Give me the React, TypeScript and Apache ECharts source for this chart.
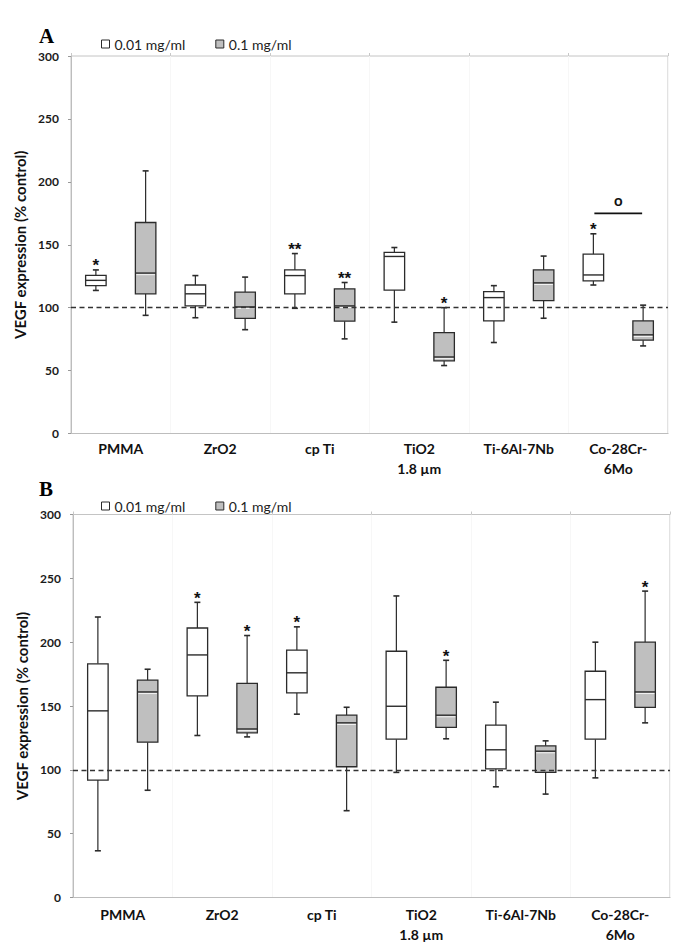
import React, { useEffect, useRef } from 'react';
import * as echarts from 'echarts';

const categories = ['PMMA', 'ZrO2', 'cp Ti', 'TiO2\n1.8 µm', 'Ti-6Al-7Nb', 'Co-28Cr-\n6Mo'];
const seriesNames = ['0.01 mg/ml', '0.1 mg/ml'];
const yMin = 0;
const yMax = 300;
const yStep = 50;
const controlLevel = 100;

// [min, q1, median, q3, max]
const panelALow = [
  [113.7, 117.5, 121.7, 125.6, 130],
  [92, 101.5, 111, 118, 125.5],
  [99.5, 111, 125.5, 130, 143],
  [88.5, 114, 140.7, 143.9, 147.8],
  [72.3, 89.5, 108, 112.8, 117.5],
  [118, 121.3, 126, 142.5, 158.7],
];
const panelAHigh = [
  [93.9, 111, 127.5, 167.7, 208.7],
  [82.5, 91.5, 100.6, 112.4, 124.3],
  [75.2, 89.3, 101.4, 115, 120],
  [54, 57.7, 60.8, 80.2, 100],
  [91.6, 105.6, 119.7, 130, 141],
  [69.6, 74.2, 78.4, 89.5, 102],
];
const sigALow = ['*', '', '**', '', '', '*'];
const sigAHigh = ['', '', '**', '*', '', ''];
const sigBarA = [[5, 175]];
const sigBarLabel = 'o';

const panelBLow = [
  [36.6, 92, 146.2, 183, 219.7],
  [126.9, 158, 190, 211.1, 231.2],
  [143.6, 160.3, 176, 193.7, 212],
  [98, 124, 149.8, 192.9, 236.2],
  [86.7, 100.8, 115.7, 135, 153],
  [93.7, 124, 155, 177.2, 200],
];
const panelBHigh = [
  [84, 121.7, 161, 170.2, 178.8],
  [125.8, 129, 132, 167.8, 205.2],
  [68, 102.4, 136.8, 142.8, 149],
  [124.3, 133.2, 142.8, 164.7, 185.8],
  [81, 98, 114.6, 118.8, 122.7],
  [136.8, 149, 161, 200, 240],
];
const sigBLow = ['', '*', '*', '', '', ''];
const sigBHigh = ['', '*', '', '*', '', '*'];

const FONT = 'Lato, "Open Sans", sans-serif';
const DARK = '#2b2b2b';
const GRAY = '#bfbfbf';
const AXIS = '#bdbdbd';

function boxSeries(
  name: string,
  axisIdx: number,
  yIdx: number,
  values: number[][],
  side: number,
  fill: string,
  sig: string[],
  withLine: boolean
): any {
  return {
    type: 'custom',
    name,
    xAxisIndex: axisIdx,
    yAxisIndex: yIdx,
    encode: { x: 0, y: [1, 2, 3, 4, 5] },
    itemStyle: { color: fill, borderColor: DARK, borderWidth: 1 },
    data: values.map((d, i) => [i, ...d]),
    z: 2,
    renderItem: (params: any, api: any) => {
      const cat = api.value(0);
      const v = [1, 2, 3, 4, 5].map((k) => api.value(k));
      const band = api.size([1, 0])[0];
      const cx = api.coord([cat, 0])[0] + side * band * 0.25;
      const y = v.map((val: number) => api.coord([cat, val])[1]);
      const hw = band * 0.103;
      const cap = 3;
      const ls = { stroke: DARK, lineWidth: 1.2 };
      const children: any[] = [
        { type: 'line', shape: { x1: cx, y1: y[0], x2: cx, y2: y[1] }, style: ls },
        { type: 'line', shape: { x1: cx, y1: y[3], x2: cx, y2: y[4] }, style: ls },
        { type: 'line', shape: { x1: cx - cap, y1: y[0], x2: cx + cap, y2: y[0] }, style: { stroke: DARK, lineWidth: 1.6 } },
        { type: 'line', shape: { x1: cx - cap, y1: y[4], x2: cx + cap, y2: y[4] }, style: { stroke: DARK, lineWidth: 1.6 } },
        {
          type: 'rect',
          shape: { x: cx - hw, y: y[3], width: hw * 2, height: y[1] - y[3] },
          style: { fill, stroke: DARK, lineWidth: 1.3 },
        },
        { type: 'line', shape: { x1: cx - hw, y1: y[2], x2: cx + hw, y2: y[2] }, style: { stroke: DARK, lineWidth: 1.4 } },
      ];
      if (fill !== '#ffffff') {
        children.push({
          type: 'line',
          shape: { x1: cx - hw + 1, y1: y[2] + 1.6, x2: cx + hw - 1, y2: y[2] + 1.6 },
          style: { stroke: '#f4f4f4', lineWidth: 1 },
        });
      }
      const s = sig[params.dataIndex];
      if (s) {
        children.push({
          type: 'text',
          style: {
            text: s,
            x: cx,
            y: y[4] - 4,
            align: 'center',
            verticalAlign: 'middle',
            font: 'bold 17px "Liberation Sans"',
            fill: '#111',
          },
        });
      }
      return { type: 'group', children };
    },
    markLine: withLine
      ? {
          silent: true,
          symbol: 'none',
          label: { show: false },
          lineStyle: { type: [5, 3.5], color: '#333', width: 1.4 },
          data: [{ yAxis: controlLevel }],
          z: 5,
        }
      : undefined,
  };
}

function sigBarSeries(axisIdx: number, yIdx: number): any {
  return {
    type: 'custom',
    name: 'sigbar',
    xAxisIndex: axisIdx,
    yAxisIndex: yIdx,
    encode: { x: 0, y: 1 },
    data: sigBarA,
    z: 3,
    renderItem: (params: any, api: any) => {
      const p = api.coord([api.value(0), api.value(1)]);
      const band = api.size([1, 0])[0];
      const half = band * 0.24;
      return {
        type: 'group',
        children: [
          { type: 'line', shape: { x1: p[0] - half, y1: p[1], x2: p[0] + half, y2: p[1] }, style: { stroke: '#111', lineWidth: 1.8 } },
          {
            type: 'text',
            style: {
              text: sigBarLabel,
              x: p[0],
              y: p[1] - 6,
              align: 'center',
              verticalAlign: 'bottom',
              font: 'bold 15px ' + FONT,
              fill: '#111',
            },
          },
        ],
      };
    },
  };
}

function axesFor(gridIndex: number, labelMargin: number) {
  const x = [
    {
      type: 'category',
      gridIndex,
      data: categories,
      boundaryGap: true,
      axisLine: { show: true, lineStyle: { color: AXIS, width: 1 } },
      axisTick: { show: false },
      splitLine: { show: true, lineStyle: { color: '#f7f7f7', width: 1 } },
      axisLabel: {
        fontFamily: FONT,
        fontWeight: 'bold',
        fontSize: 14,
        lineHeight: 20,
        color: '#111',
        margin: labelMargin,
        interval: 0,
      },
    },
    {
      type: 'category',
      gridIndex,
      position: 'top',
      data: categories,
      boundaryGap: true,
      axisLine: { show: false },
      axisTick: { show: true, length: 3, lineStyle: { color: '#c8c8c8' }, interval: 0 },
      axisLabel: { show: false },
      splitLine: { show: false },
    },
  ];
  const y = {
    type: 'value',
    gridIndex,
    min: yMin,
    max: yMax,
    interval: yStep,
    name: 'VEGF expression (% control)',
    nameLocation: 'middle',
    nameGap: 32,
    nameTextStyle: { fontFamily: FONT, fontWeight: 'bold', fontSize: 15, color: '#111' },
    axisLine: { show: true, lineStyle: { color: AXIS, width: 1 } },
    axisTick: { show: true, length: 3, lineStyle: { color: '#999' } },
    splitLine: { show: false },
    axisLabel: { fontFamily: FONT, fontWeight: 'bold', fontSize: 12, color: '#1a1a1a', margin: 12 },
  };
  return { x, y };
}

function legendAt(top: number): any {
  return {
    left: 96,
    top,
    orient: 'horizontal',
    selectedMode: false,
    icon: 'rect',
    itemWidth: 8,
    itemHeight: 8,
    itemGap: 30,
    textStyle: { fontFamily: FONT, fontSize: 14, color: '#222' },
    data: [
      { name: seriesNames[0], itemStyle: { color: '#ffffff', borderColor: DARK, borderWidth: 1 } },
      { name: seriesNames[1], itemStyle: { color: GRAY, borderColor: DARK, borderWidth: 1 } },
    ],
  };
}

export default function App() {
  const ref = useRef<HTMLDivElement>(null);
  useEffect(() => {
    if (!ref.current) return;
    const chart = echarts.init(ref.current, null, { renderer: 'svg' });
    const a = axesFor(0, 5);
    const b = axesFor(1, 7);
    chart.setOption({
      animation: false,
      backgroundColor: '#ffffff',
      title: [
        { text: 'A', left: 34, top: 20, textStyle: { fontFamily: '"Liberation Serif", serif', fontWeight: 'bold', fontSize: 21, color: '#000' } },
        { text: 'B', left: 34, top: 473, textStyle: { fontFamily: '"Liberation Serif", serif', fontWeight: 'bold', fontSize: 21, color: '#000' } },
      ],
      legend: [legendAt(32), legendAt(494)],
      grid: [
        { left: 71, top: 56, width: 597, height: 377.5, show: true, borderColor: '#c4c4c4', borderWidth: 1, backgroundColor: 'transparent' },
        { left: 73, top: 514.5, width: 597, height: 383, show: true, borderColor: '#c4c4c4', borderWidth: 1, backgroundColor: 'transparent' },
      ],
      xAxis: [...a.x, ...b.x],
      yAxis: [a.y, b.y],
      series: [
        boxSeries(seriesNames[0], 0, 0, panelALow, -1, '#ffffff', sigALow, true),
        boxSeries(seriesNames[1], 0, 0, panelAHigh, 1, GRAY, sigAHigh, false),
        sigBarSeries(0, 0),
        boxSeries(seriesNames[0], 2, 1, panelBLow, -1, '#ffffff', sigBLow, true),
        boxSeries(seriesNames[1], 2, 1, panelBHigh, 1, GRAY, sigBHigh, false),
      ],
    });
    return () => chart.dispose();
  }, []);
  return <div ref={ref} style={{ position: 'absolute', left: 0, top: 0, width: 688, height: 947 }} />;
}
